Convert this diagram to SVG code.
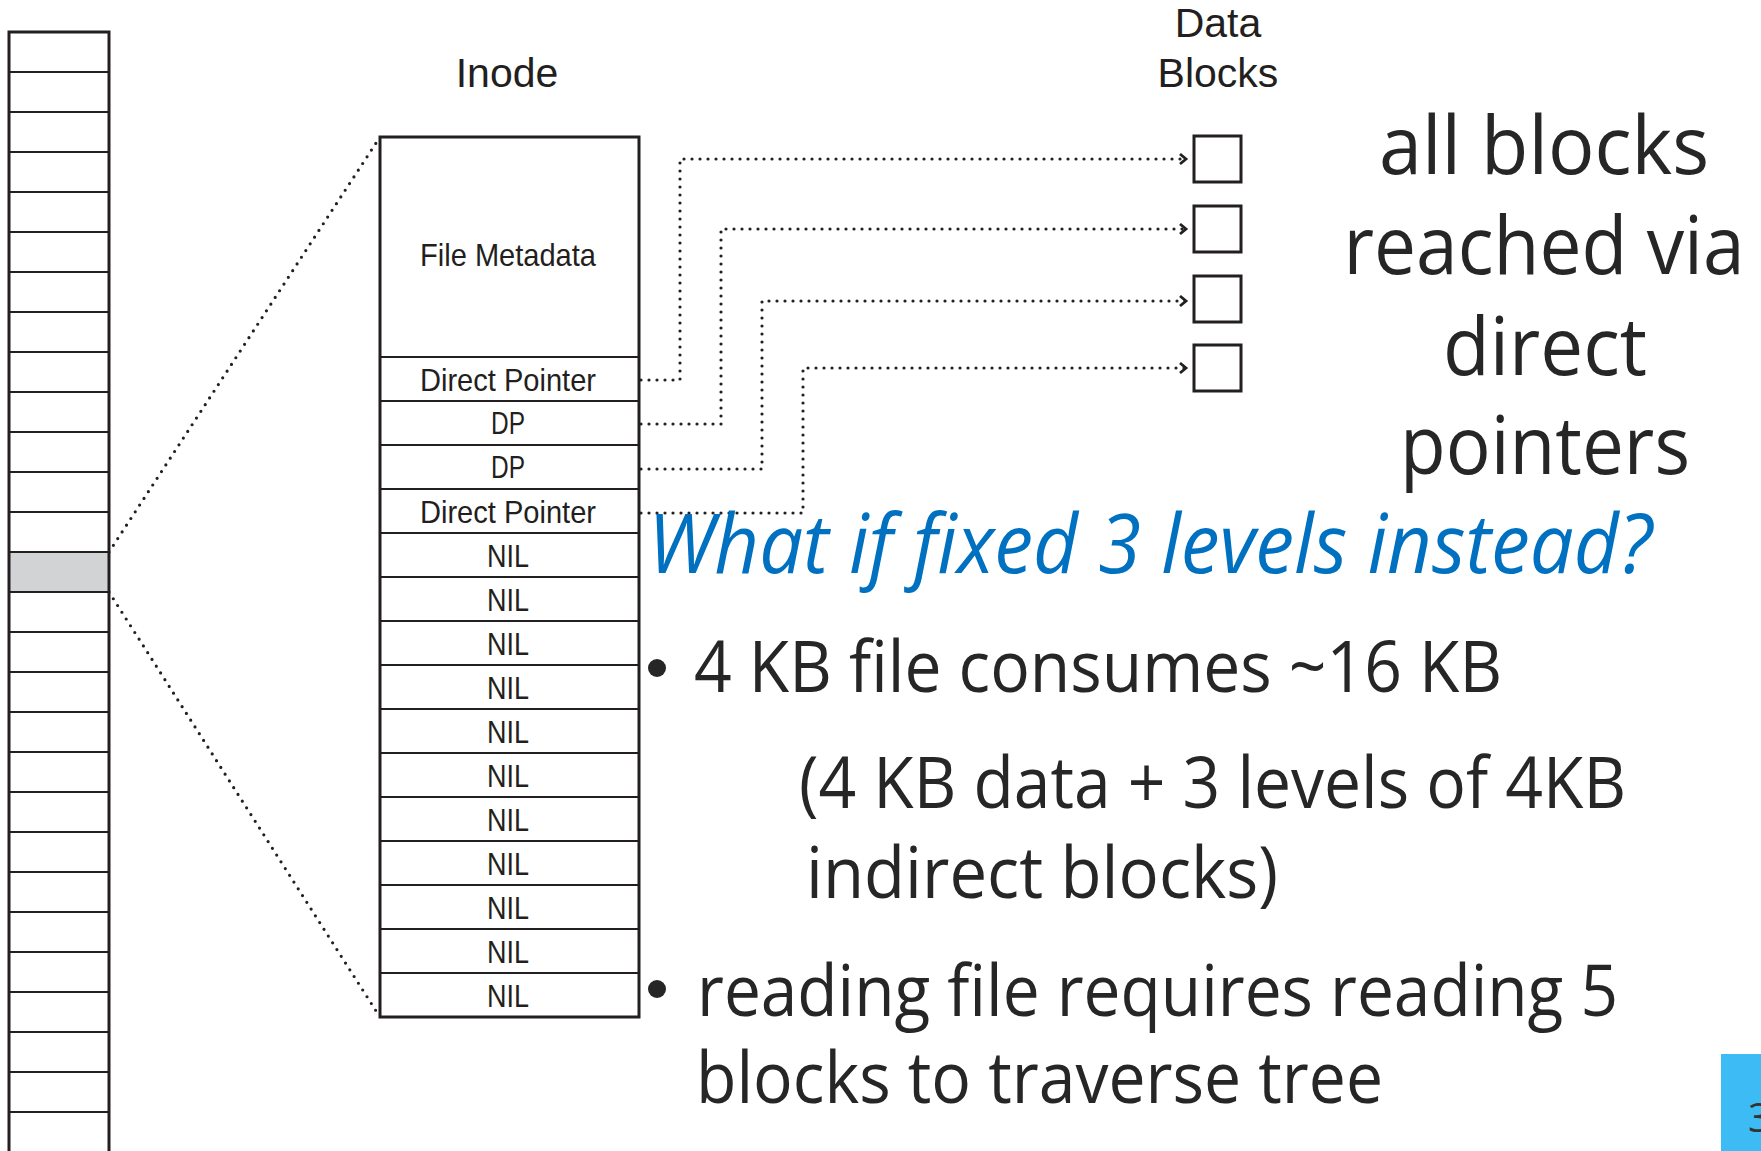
<svg xmlns="http://www.w3.org/2000/svg" width="1761" height="1151" viewBox="0 0 1761 1151">
<defs>
<style>
.frame{fill:none;stroke:#231f20;stroke-width:3}
.inner{stroke:#231f20;stroke-width:2.2}
.cell{font-family:"Liberation Sans",Arial,sans-serif;font-size:32px;fill:#231f20;text-anchor:middle}
.lbl{font-family:"Liberation Sans",Arial,sans-serif;font-size:41px;fill:#231f20;text-anchor:middle}
.dot{fill:none;stroke:#231f20;stroke-width:3.2;stroke-linecap:round;stroke-linejoin:round;stroke-dasharray:0 8}
.big{font-family:"Open Sans","Noto Sans",sans-serif;font-size:80px;fill:#262626;text-anchor:middle}
.title{font-family:"Open Sans","Noto Sans",sans-serif;font-size:82px;font-style:italic;fill:#0070c0}
.body{font-family:"Open Sans","Noto Sans",sans-serif;font-size:71px;fill:#262626}
</style>
<marker id="chev" markerUnits="userSpaceOnUse" markerWidth="14" markerHeight="14" viewBox="-8 -7 10 14" refX="0" refY="0" orient="auto">
<path d="M-6,-5 L0,0 L-6,5" fill="none" stroke="#231f20" stroke-width="2.8" stroke-linejoin="miter"/>
</marker>
</defs>
<rect width="1761" height="1151" fill="#ffffff"/>

<g id="disk-blocks">
<rect x="9" y="552" width="100" height="40" fill="#d1d3d4"/>
<g class="inner">
<line x1="9" y1="72" x2="109" y2="72"/><line x1="9" y1="112" x2="109" y2="112"/><line x1="9" y1="152" x2="109" y2="152"/><line x1="9" y1="192" x2="109" y2="192"/><line x1="9" y1="232" x2="109" y2="232"/><line x1="9" y1="272" x2="109" y2="272"/><line x1="9" y1="312" x2="109" y2="312"/><line x1="9" y1="352" x2="109" y2="352"/><line x1="9" y1="392" x2="109" y2="392"/><line x1="9" y1="432" x2="109" y2="432"/><line x1="9" y1="472" x2="109" y2="472"/><line x1="9" y1="512" x2="109" y2="512"/><line x1="9" y1="552" x2="109" y2="552"/><line x1="9" y1="592" x2="109" y2="592"/><line x1="9" y1="632" x2="109" y2="632"/><line x1="9" y1="672" x2="109" y2="672"/><line x1="9" y1="712" x2="109" y2="712"/><line x1="9" y1="752" x2="109" y2="752"/><line x1="9" y1="792" x2="109" y2="792"/><line x1="9" y1="832" x2="109" y2="832"/><line x1="9" y1="872" x2="109" y2="872"/><line x1="9" y1="912" x2="109" y2="912"/><line x1="9" y1="952" x2="109" y2="952"/><line x1="9" y1="992" x2="109" y2="992"/><line x1="9" y1="1032" x2="109" y2="1032"/><line x1="9" y1="1072" x2="109" y2="1072"/><line x1="9" y1="1112" x2="109" y2="1112"/>
</g>
<rect class="frame" x="9" y="32" width="100" height="1140"/>
</g>

<g id="inode">
<text class="lbl" x="507" y="87">Inode</text>
<g class="inner">
<line x1="380" y1="357" x2="639" y2="357"/><line x1="380" y1="401" x2="639" y2="401"/><line x1="380" y1="445" x2="639" y2="445"/><line x1="380" y1="489" x2="639" y2="489"/><line x1="380" y1="533" x2="639" y2="533"/><line x1="380" y1="577" x2="639" y2="577"/><line x1="380" y1="621" x2="639" y2="621"/><line x1="380" y1="665" x2="639" y2="665"/><line x1="380" y1="709" x2="639" y2="709"/><line x1="380" y1="753" x2="639" y2="753"/><line x1="380" y1="797" x2="639" y2="797"/><line x1="380" y1="841" x2="639" y2="841"/><line x1="380" y1="885" x2="639" y2="885"/><line x1="380" y1="929" x2="639" y2="929"/><line x1="380" y1="973" x2="639" y2="973"/>
</g>
<rect class="frame" x="380" y="137" width="259" height="880"/>
<text class="cell" x="508" y="266" textLength="176" lengthAdjust="spacingAndGlyphs">File Metadata</text>
<text class="cell" x="508" y="391" textLength="176" lengthAdjust="spacingAndGlyphs">Direct Pointer</text>
<text class="cell" x="508" y="434" textLength="34" lengthAdjust="spacingAndGlyphs">DP</text>
<text class="cell" x="508" y="478" textLength="34" lengthAdjust="spacingAndGlyphs">DP</text>
<text class="cell" x="508" y="523" textLength="176" lengthAdjust="spacingAndGlyphs">Direct Pointer</text>
<text class="cell" x="508" y="567" textLength="42" lengthAdjust="spacingAndGlyphs">NIL</text>
<text class="cell" x="508" y="611" textLength="42" lengthAdjust="spacingAndGlyphs">NIL</text>
<text class="cell" x="508" y="655" textLength="42" lengthAdjust="spacingAndGlyphs">NIL</text>
<text class="cell" x="508" y="699" textLength="42" lengthAdjust="spacingAndGlyphs">NIL</text>
<text class="cell" x="508" y="743" textLength="42" lengthAdjust="spacingAndGlyphs">NIL</text>
<text class="cell" x="508" y="787" textLength="42" lengthAdjust="spacingAndGlyphs">NIL</text>
<text class="cell" x="508" y="831" textLength="42" lengthAdjust="spacingAndGlyphs">NIL</text>
<text class="cell" x="508" y="875" textLength="42" lengthAdjust="spacingAndGlyphs">NIL</text>
<text class="cell" x="508" y="919" textLength="42" lengthAdjust="spacingAndGlyphs">NIL</text>
<text class="cell" x="508" y="963" textLength="42" lengthAdjust="spacingAndGlyphs">NIL</text>
<text class="cell" x="508" y="1007" textLength="42" lengthAdjust="spacingAndGlyphs">NIL</text>
</g>

<g id="data-blocks">
<text class="lbl" x="1218" y="37">Data</text>
<text class="lbl" x="1218" y="87">Blocks</text>
<rect class="frame" x="1194" y="136" width="47" height="46"/>
<rect class="frame" x="1194" y="206" width="47" height="46"/>
<rect class="frame" x="1194" y="276" width="47" height="46"/>
<rect class="frame" x="1194" y="345" width="47" height="46"/>
</g>

<g id="connectors">
<path class="dot" d="M109,552 L378,140"/>
<path class="dot" d="M109,592 L378,1014"/>
<path class="dot" d="M641,380 H680 V159 H1186" marker-end="url(#chev)"/>
<path class="dot" d="M641,424 H721 V229 H1186" marker-end="url(#chev)"/>
<path class="dot" d="M641,469 H762 V301 H1186" marker-end="url(#chev)"/>
<path class="dot" d="M641,513 H803 V368 H1186" marker-end="url(#chev)"/>
</g>

<g id="note">
<text class="big" x="1544" y="174" textLength="330" lengthAdjust="spacingAndGlyphs">all blocks</text>
<text class="big" x="1544" y="274" textLength="401" lengthAdjust="spacingAndGlyphs">reached via</text>
<text class="big" x="1545" y="375" textLength="204" lengthAdjust="spacingAndGlyphs">direct</text>
<text class="big" x="1545" y="474" textLength="290" lengthAdjust="spacingAndGlyphs">pointers</text>
</g>

<g id="question">
<text class="title" x="648" y="573" textLength="1004" lengthAdjust="spacingAndGlyphs">What if fixed 3 levels instead?</text>
<circle cx="657" cy="668" r="9" fill="#262626"/>
<text class="body" x="694" y="692" textLength="808" lengthAdjust="spacingAndGlyphs">4 KB file consumes ~16 KB</text>
<text class="body" x="799" y="808" textLength="827" lengthAdjust="spacingAndGlyphs">(4 KB data + 3 levels of 4KB</text>
<text class="body" x="806" y="898" textLength="472" lengthAdjust="spacingAndGlyphs">indirect blocks)</text>
<circle cx="657" cy="989" r="9" fill="#262626"/>
<text class="body" x="697" y="1016" textLength="921" lengthAdjust="spacingAndGlyphs">reading file requires reading 5</text>
<text class="body" x="696" y="1103" textLength="687" lengthAdjust="spacingAndGlyphs">blocks to traverse tree</text>
</g>

<g id="slide-number">
<rect x="1721" y="1054" width="40" height="97" fill="#3cbbf4"/>
<text x="1748" y="1132" font-family="'Open Sans','Noto Sans',sans-serif" font-size="40" fill="#333333">3</text>
</g>
</svg>
